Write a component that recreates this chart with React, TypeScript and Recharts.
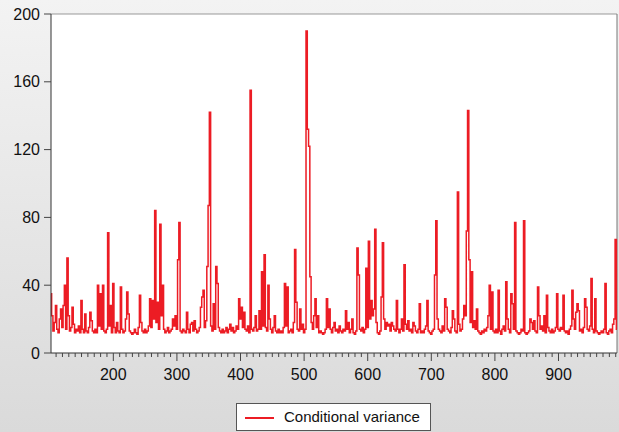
import { LineChart, Line, XAxis, YAxis, CartesianGrid, ReferenceLine } from 'recharts'

// observations 102..992, every second one
const firstObs = 102
const obsStep = 2

const varianceValues = [
  35, 22, 13, 18, 28, 14, 12, 20, 26, 15, 28, 40, 14, 56, 22, 13, 15, 27, 17, 12,
  14, 13, 16, 12, 31, 14, 12, 23, 13, 12, 15, 24, 19, 13, 12, 14, 12, 40, 16, 35,
  14, 40, 13, 12, 14, 71, 16, 28, 12, 41, 15, 12, 18, 13, 12, 39, 14, 12, 13, 20,
  36, 23, 13, 12, 11, 12, 14, 12, 11, 15, 34, 18, 13, 12, 14, 12, 13, 16, 32, 15,
  31, 20, 84, 18, 30, 14, 76, 22, 40, 14, 12, 13, 15, 12, 13, 14, 20, 16, 22, 14,
  55, 77, 13, 12, 14, 13, 12, 24, 14, 12, 17, 18, 13, 19, 14, 12, 13, 15, 27, 33,
  37, 15, 19, 51, 87, 142, 16, 13, 29, 14, 51, 41, 15, 13, 12, 14, 12, 13, 15, 12,
  14, 17, 13, 15, 12, 13, 16, 14, 32, 20, 27, 15, 24, 14, 13, 16, 12, 155, 14, 13,
  15, 22, 13, 14, 25, 14, 48, 16, 58, 15, 13, 40, 20, 14, 12, 15, 22, 13, 12, 14,
  12, 13, 12, 15, 41, 16, 39, 12, 13, 14, 12, 18, 61, 30, 14, 13, 26, 14, 17, 12,
  14, 190, 132, 122, 45, 18, 14, 22, 32, 15, 22, 12, 13, 12, 11, 12, 14, 32, 15, 26,
  14, 12, 15, 18, 13, 14, 12, 16, 13, 12, 14, 13, 25, 14, 18, 12, 14, 20, 12, 11,
  13, 62, 46, 14, 13, 15, 12, 14, 50, 15, 66, 20, 31, 22, 26, 73, 18, 12, 11, 13,
  33, 65, 20, 14, 18, 16, 17, 13, 18, 16, 14, 13, 31, 14, 12, 14, 20, 13, 52, 17,
  14, 19, 13, 14, 12, 18, 16, 13, 12, 14, 29, 12, 13, 12, 14, 16, 31, 13, 12, 11,
  13, 14, 46, 78, 20, 14, 13, 12, 16, 13, 32, 27, 14, 13, 12, 15, 25, 20, 13, 12,
  95, 17, 13, 14, 20, 28, 22, 72, 143, 55, 18, 48, 15, 19, 14, 26, 13, 12, 11, 13,
  12, 14, 13, 15, 22, 40, 14, 36, 13, 12, 14, 12, 37, 13, 11, 14, 16, 13, 42, 20,
  14, 12, 35, 29, 14, 77, 13, 12, 11, 12, 14, 13, 78, 12, 11, 12, 13, 20, 18, 14,
  19, 13, 12, 39, 22, 14, 16, 13, 22, 12, 34, 15, 13, 12, 14, 12, 13, 15, 35, 14,
  13, 15, 14, 34, 13, 12, 13, 11, 14, 16, 37, 20, 14, 24, 29, 25, 13, 14, 12, 15,
  32, 27, 14, 13, 16, 44, 14, 12, 32, 13, 12, 11, 12, 13, 12, 14, 41, 12, 11, 13,
  14, 12, 17, 20, 67, 14,
]

const xDomain = [102, 992]
const yTicks = [0, 40, 80, 120, 160, 200]
// minor ticks every 10, labels on the hundreds
const xTicks = Array.from({ length: 89 }, (_, i) => 110 + i * 10)

const data = varianceValues.map((v, i) => ({ obs: firstObs + i * obsStep, v }))

const RED = '#ec1c24'

function XTick({ x, y, payload }: any) {
  const major = payload.value % 100 === 0
  return (
    <g>
      <line x1={x} x2={x} y1={y} y2={y + (major ? 8 : 4)} stroke="#444" />
      {major && (
        <text x={x} y={y + 27} textAnchor="middle" fontSize={16} fill="#111">
          {payload.value}
        </text>
      )}
    </g>
  )
}

export default function App() {
  return (
    <div
      style={{
        position: 'absolute',
        left: 0,
        top: 0,
        width: 619,
        height: 432,
        background: 'linear-gradient(#f3f3f3, #dadada)',
        fontFamily: "'Liberation Sans', Arial, sans-serif",
      }}
    >
      <LineChart width={619} height={432} data={data} margin={{ top: 14, right: 2, bottom: 49, left: 0 }}>
        <CartesianGrid horizontal={false} vertical={false} fill="#ffffff" />
        <XAxis
          dataKey="obs"
          type="number"
          domain={xDomain}
          ticks={xTicks}
          interval={0}
          tick={<XTick />}
          tickSize={0}
          tickMargin={0}
          tickLine={false}
          axisLine={{ stroke: '#333' }}
          height={30}
        />
        <YAxis
          domain={[0, 200]}
          ticks={yTicks}
          interval={0}
          width={51}
          tickSize={7}
          tickMargin={4}
          tick={{ fontSize: 16, fill: '#111' }}
          tickLine={{ stroke: '#444' }}
          axisLine={{ stroke: '#333' }}
        />
        <ReferenceLine y={200} stroke="#999" />
        <ReferenceLine x={992} stroke="#777" />
        <Line type="step" dataKey="v" stroke={RED} strokeWidth={1.5} dot={false} isAnimationActive={false} />
      </LineChart>

      {/* legend box */}
      <div
        style={{
          position: 'absolute',
          left: 236,
          top: 403,
          width: 193,
          height: 26,
          border: '1px solid #555',
          background: '#fff',
        }}
      >
        <div style={{ position: 'absolute', left: 8, top: 13, width: 29, height: 1.5, background: RED }} />
        <div style={{ position: 'absolute', left: 47, top: 4, fontSize: 15, lineHeight: '18px', color: '#111' }}>
          Conditional variance
        </div>
      </div>
    </div>
  )
}
